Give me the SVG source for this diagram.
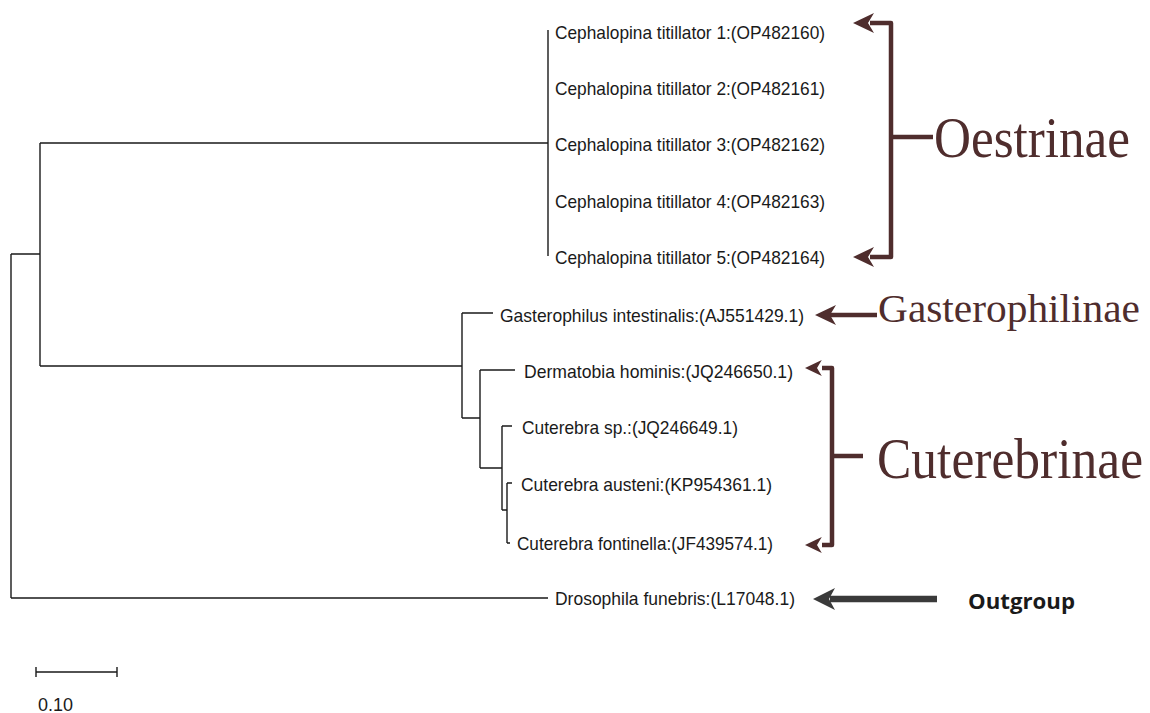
<svg xmlns="http://www.w3.org/2000/svg" xmlns:xlink="http://www.w3.org/1999/xlink" width="1150" height="713" viewBox="0 0 1150 713">
<style>
.tree{fill:none;stroke:#1a1a1a;stroke-width:1.4}
.lbl{font-family:"Liberation Sans",Arial,sans-serif;font-size:19px;fill:#1a1a1a}
.br{fill:none;stroke:#4f2d2d;stroke-width:4.5;stroke-linejoin:round}
.ah{fill:#4f2d2d}
.big{font-family:"Liberation Serif","Times New Roman",serif;fill:#4f2d2d}
.og{font-family:"Open Sans","Liberation Sans",sans-serif;font-weight:bold;font-size:22px;fill:#1a1a1a}
</style>
<defs>
<path id="head" d="M0,0 L21,-10 L15,0 L21,10 Z"/>
<path id="headg" d="M0,0 L22,-11 L16,0 L22,11 Z"/>
</defs>
<rect width="1150" height="713" fill="#ffffff"/>
<g id="connectors">
<path class="tree" d="M11,254 V598 M11,254 H40 M40,143 V366 M40,143 H548 M548,30 V256 M40,366 H462 M462,313 V418 M462,313 H493 M462,418 H480 M480,370 V468 M480,370 H515 M480,468 H502 M502,426 V510 M502,426 H512 M502,510 H507 M507,483 V543 M507,483 H512 M507,543 H510 M11,598 H548"/>
<path class="br" d="M870,23 H891 V257 H870 M891,137 H933"/>
<use href="#head" x="853" y="23" class="ah"/>
<use href="#head" x="853" y="257" class="ah"/>
<path class="br" d="M830,315 H877"/>
<use href="#head" x="815" y="315" class="ah"/>
<path class="br" d="M822,368 H832 V545 H822 M832,456 H863"/>
<use href="#head" transform="translate(805,368) scale(0.8)" class="ah"/>
<use href="#head" transform="translate(805,545) scale(0.8)" class="ah"/>
<path d="M830,599 H937" fill="none" stroke="#3a3a3a" stroke-width="6.5"/>
<use href="#headg" x="813" y="599" fill="#3a3a3a"/>
<path class="tree" d="M36,672 H117 M36,667 V677 M117,667 V677" stroke-width="1.8"/>
</g>
<g id="n-ceph1"><text class="lbl" x="555" y="39" textLength="270" lengthAdjust="spacingAndGlyphs">Cephalopina titillator 1:(OP482160)</text></g>
<g id="n-ceph2"><text class="lbl" x="555" y="95" textLength="270" lengthAdjust="spacingAndGlyphs">Cephalopina titillator 2:(OP482161)</text></g>
<g id="n-ceph3"><text class="lbl" x="555" y="151" textLength="270" lengthAdjust="spacingAndGlyphs">Cephalopina titillator 3:(OP482162)</text></g>
<g id="n-ceph4"><text class="lbl" x="555" y="208" textLength="270" lengthAdjust="spacingAndGlyphs">Cephalopina titillator 4:(OP482163)</text></g>
<g id="n-ceph5"><text class="lbl" x="555" y="264" textLength="270" lengthAdjust="spacingAndGlyphs">Cephalopina titillator 5:(OP482164)</text></g>
<g id="n-gast"><text class="lbl" x="500" y="322" textLength="304" lengthAdjust="spacingAndGlyphs">Gasterophilus intestinalis:(AJ551429.1)</text></g>
<g id="n-derm"><text class="lbl" x="524" y="378" textLength="269" lengthAdjust="spacingAndGlyphs">Dermatobia hominis:(JQ246650.1)</text></g>
<g id="n-cutsp"><text class="lbl" x="522" y="434" textLength="216" lengthAdjust="spacingAndGlyphs">Cuterebra sp.:(JQ246649.1)</text></g>
<g id="n-cutaus"><text class="lbl" x="521" y="491" textLength="251" lengthAdjust="spacingAndGlyphs">Cuterebra austeni:(KP954361.1)</text></g>
<g id="n-cutfon"><text class="lbl" x="517" y="550" textLength="256" lengthAdjust="spacingAndGlyphs">Cuterebra fontinella:(JF439574.1)</text></g>
<g id="n-dros"><text class="lbl" x="555" y="605" textLength="240" lengthAdjust="spacingAndGlyphs">Drosophila funebris:(L17048.1)</text></g>
<g id="l-oest" transform="translate(934,157) scale(1,1.16)"><text class="big" x="0" y="0" font-size="50" textLength="196" lengthAdjust="spacingAndGlyphs">Oestrinae</text></g>
<g id="l-gast"><text class="big" x="878" y="322" font-size="40" textLength="262" lengthAdjust="spacingAndGlyphs">Gasterophilinae</text></g>
<g id="l-cut" transform="translate(877,478) scale(1,1.16)"><text class="big" x="0" y="0" font-size="50" textLength="266" lengthAdjust="spacingAndGlyphs">Cuterebrinae</text></g>
<g id="l-out"><text class="og" x="968" y="609" textLength="107" lengthAdjust="spacingAndGlyphs">Outgroup</text></g>
<g id="scale"><text class="lbl" x="38" y="711" font-size="14" textLength="35" lengthAdjust="spacingAndGlyphs">0.10</text></g>
</svg>
